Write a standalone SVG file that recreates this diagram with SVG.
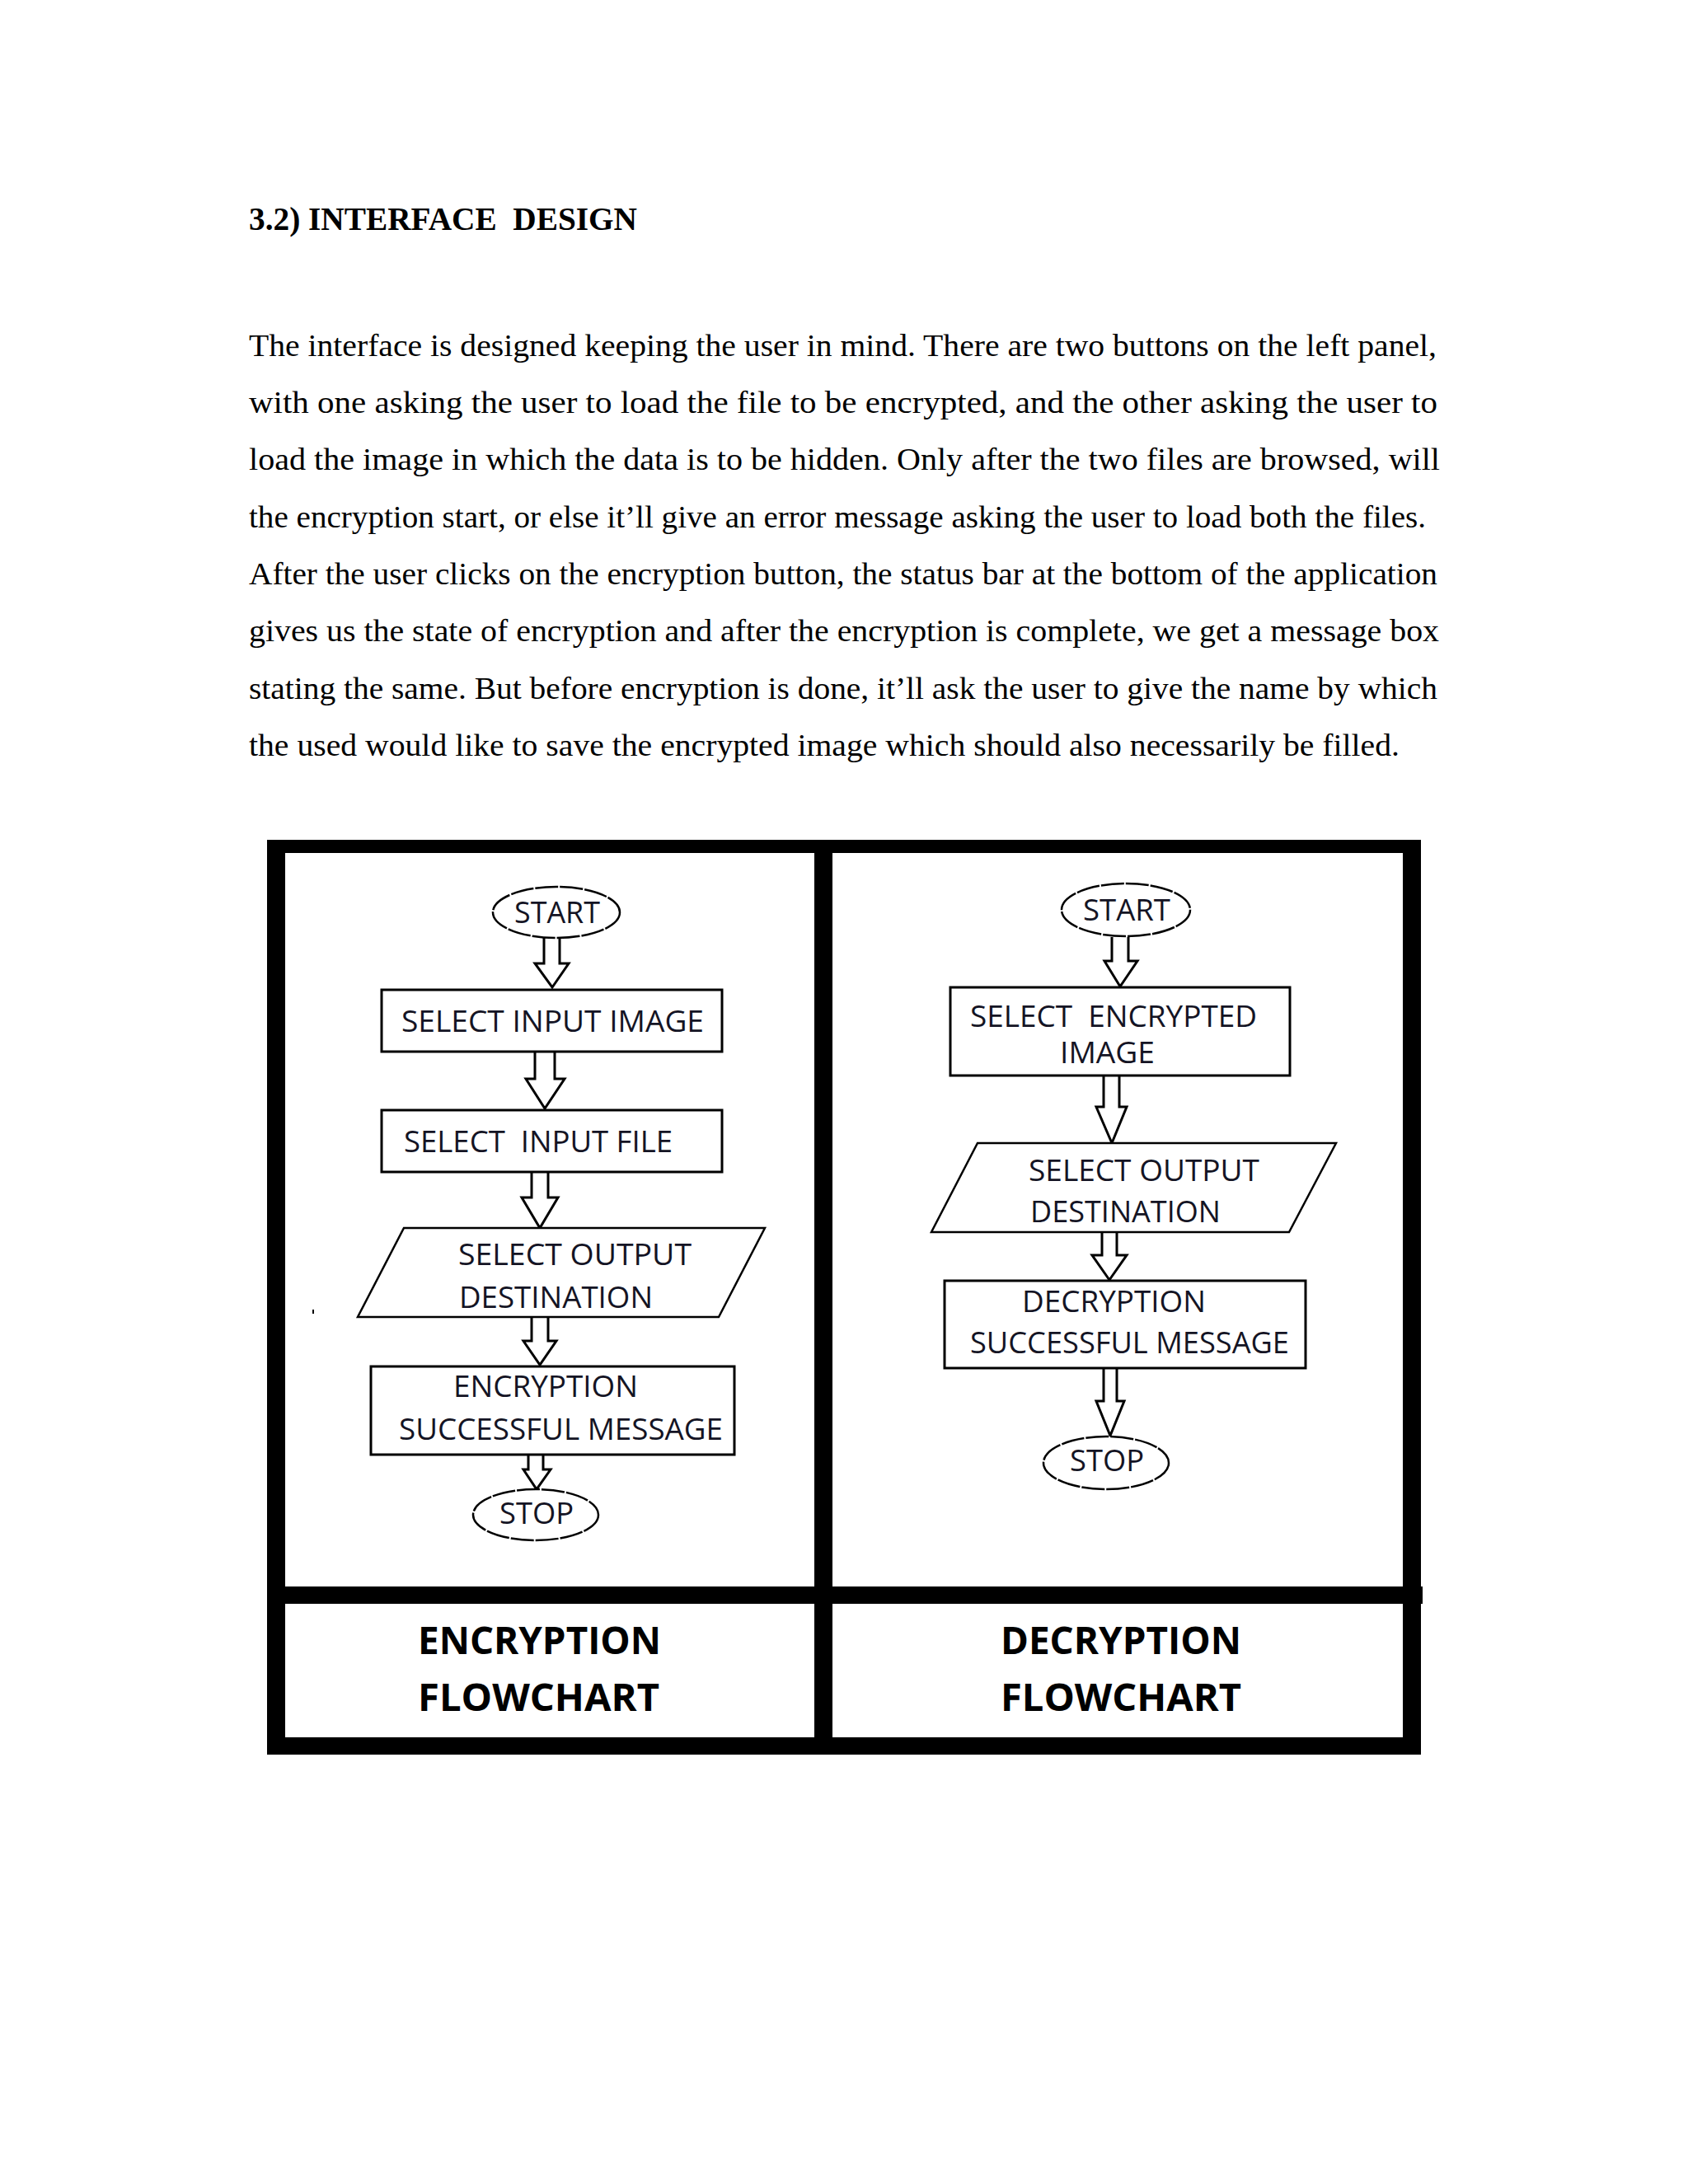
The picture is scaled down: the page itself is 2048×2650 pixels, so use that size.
<svg xmlns="http://www.w3.org/2000/svg" width="2048" height="2650" viewBox="0 0 2048 2650">
<style>
.h{font-family:"Liberation Serif","Times New Roman",serif;font-weight:bold;font-size:39px;fill:#000}
.p{font-family:"Liberation Serif","Times New Roman",serif;font-size:37px;fill:#000}
.t{font-family:"Open Sans","Noto Sans",sans-serif;font-size:36px;fill:#141424}
.l{font-family:"Open Sans","Noto Sans",sans-serif;font-weight:bold;font-size:47px;fill:#000}
.shape{fill:#fff;stroke:#000;stroke-width:3}
.term{fill:#fff;stroke:#000;stroke-width:2.5;stroke-dasharray:28 2}
.io{fill:#fff;stroke:#000;stroke-width:2.5}
.arrow{fill:#fff;stroke:#000;stroke-width:3;stroke-linejoin:miter}
</style>
<rect width="2048" height="2650" fill="#fff"/>
<g id="heading">
<text class="h" x="302" y="279" textLength="471" lengthAdjust="spacingAndGlyphs" xml:space="preserve">3.2) INTERFACE  DESIGN</text>
</g>
<g id="paragraph">
<text class="p" x="302" y="432" textLength="1441" lengthAdjust="spacingAndGlyphs">The interface is designed keeping the user in mind. There are two buttons on the left panel,</text>
<text class="p" x="302" y="501" textLength="1442" lengthAdjust="spacingAndGlyphs">with one asking the user to load the file to be encrypted, and the other asking the user to</text>
<text class="p" x="302" y="570" textLength="1445" lengthAdjust="spacingAndGlyphs">load the image in which the data is to be hidden. Only after the two files are browsed, will</text>
<text class="p" x="302" y="640" textLength="1428" lengthAdjust="spacingAndGlyphs">the encryption start, or else it’ll give an error message asking the user to load both the files.</text>
<text class="p" x="302" y="709" textLength="1442" lengthAdjust="spacingAndGlyphs">After the user clicks on the encryption button, the status bar at the bottom of the application</text>
<text class="p" x="302" y="778" textLength="1444" lengthAdjust="spacingAndGlyphs">gives us the state of encryption and after the encryption is complete, we get a message box</text>
<text class="p" x="302" y="848" textLength="1442" lengthAdjust="spacingAndGlyphs">stating the same. But before encryption is done, it’ll ask the user to give the name by which</text>
<text class="p" x="302" y="917" textLength="1396" lengthAdjust="spacingAndGlyphs">the used would like to save the encrypted image which should also necessarily be filled.</text>
</g>
<g id="frame">
<rect x="324" y="1019" width="1400" height="1110" fill="#000"/>
<rect x="1700" y="1925" width="26" height="21" fill="#000"/>
<rect x="346" y="1035" width="642" height="890" fill="#fff"/>
<rect x="1010" y="1035" width="692" height="890" fill="#fff"/>
<rect x="346" y="1946" width="642" height="162" fill="#fff"/>
<rect x="1010" y="1946" width="692" height="162" fill="#fff"/>
<rect x="379" y="1589" width="2" height="5" fill="#000"/>
</g>
<g id="connectors">
<path class="arrow" d="M660,1138 V1169 H649 L670,1198 L690,1169 H679 V1138"/>
<path class="arrow" d="M649,1276 V1309 H638 L661,1345 L685,1309 H673 V1276"/>
<path class="arrow" d="M645,1422 V1453 H633 L655,1490 L677,1453 H665 V1422"/>
<path class="arrow" d="M645,1599 V1627 H635 L655,1656 L675,1627 H665 V1599"/>
<path class="arrow" d="M641,1765 V1783 H635 L651,1807 L668,1783 H659 V1765"/>
<path class="arrow" d="M1349,1137 V1166 H1340 L1359,1197 L1380,1166 H1369 V1137"/>
<path class="arrow" d="M1339,1305 V1343 H1330 L1349,1387 L1367,1343 H1358 V1305"/>
<path class="arrow" d="M1337,1495 V1523 H1325 L1346,1553 L1367,1523 H1355 V1495"/>
<path class="arrow" d="M1339,1661 V1700 H1330 L1347,1742 L1364,1700 H1355 V1661"/>
</g>
<g id="enc-start">
<ellipse class="term" cx="675" cy="1107" rx="77" ry="31"/>
<text class="t" x="624" y="1120" textLength="104" lengthAdjust="spacingAndGlyphs">START</text>
</g>
<g id="enc-select-image">
<rect class="shape" x="463" y="1201" width="413" height="75"/>
<text class="t" x="487" y="1252" textLength="367" lengthAdjust="spacingAndGlyphs">SELECT INPUT IMAGE</text>
</g>
<g id="enc-select-file">
<rect class="shape" x="463" y="1347" width="413" height="75"/>
<text class="t" x="490" y="1398" textLength="326" lengthAdjust="spacingAndGlyphs" xml:space="preserve">SELECT  INPUT FILE</text>
</g>
<g id="enc-output">
<polygon class="io" points="490,1490 928,1490 872,1598 434,1598"/>
<text class="t" x="556" y="1535" textLength="283" lengthAdjust="spacingAndGlyphs">SELECT OUTPUT</text>
<text class="t" x="557" y="1587" textLength="235" lengthAdjust="spacingAndGlyphs">DESTINATION</text>
</g>
<g id="enc-success">
<rect class="shape" x="450" y="1658" width="441" height="107"/>
<text class="t" x="550" y="1695" textLength="224" lengthAdjust="spacingAndGlyphs">ENCRYPTION</text>
<text class="t" x="484" y="1747" textLength="393" lengthAdjust="spacingAndGlyphs">SUCCESSFUL MESSAGE</text>
</g>
<g id="enc-stop">
<ellipse class="term" cx="650" cy="1838" rx="76" ry="31"/>
<text class="t" x="606" y="1849" textLength="90" lengthAdjust="spacingAndGlyphs">STOP</text>
</g>
<g id="dec-start">
<ellipse class="term" cx="1366" cy="1104" rx="78" ry="32"/>
<text class="t" x="1314" y="1117" textLength="106" lengthAdjust="spacingAndGlyphs">START</text>
</g>
<g id="dec-select-image">
<rect class="shape" x="1153" y="1198" width="412" height="107"/>
<text class="t" x="1177" y="1246" font-size="32" textLength="348" lengthAdjust="spacingAndGlyphs" xml:space="preserve">SELECT  ENCRYPTED</text>
<text class="t" x="1286" y="1290" font-size="32" textLength="115" lengthAdjust="spacingAndGlyphs">IMAGE</text>
</g>
<g id="dec-output">
<polygon class="io" points="1186,1387 1621,1387 1564,1495 1130,1495"/>
<text class="t" x="1248" y="1433" textLength="280" lengthAdjust="spacingAndGlyphs">SELECT OUTPUT</text>
<text class="t" x="1250" y="1483" textLength="231" lengthAdjust="spacingAndGlyphs">DESTINATION</text>
</g>
<g id="dec-success">
<rect class="shape" x="1146" y="1554" width="438" height="106"/>
<text class="t" x="1240" y="1592" textLength="223" lengthAdjust="spacingAndGlyphs">DECRYPTION</text>
<text class="t" x="1177" y="1642" textLength="387" lengthAdjust="spacingAndGlyphs">SUCCESSFUL MESSAGE</text>
</g>
<g id="dec-stop">
<ellipse class="term" cx="1342" cy="1775" rx="76" ry="32"/>
<text class="t" x="1298" y="1785" textLength="90" lengthAdjust="spacingAndGlyphs">STOP</text>
</g>
<g id="label-encryption">
<text class="l" x="507" y="2007" textLength="295" lengthAdjust="spacingAndGlyphs">ENCRYPTION</text>
<text class="l" x="507" y="2076" textLength="293" lengthAdjust="spacingAndGlyphs">FLOWCHART</text>
</g>
<g id="label-decryption">
<text class="l" x="1214" y="2007" textLength="292" lengthAdjust="spacingAndGlyphs">DECRYPTION</text>
<text class="l" x="1214" y="2076" textLength="292" lengthAdjust="spacingAndGlyphs">FLOWCHART</text>
</g>
</svg>
